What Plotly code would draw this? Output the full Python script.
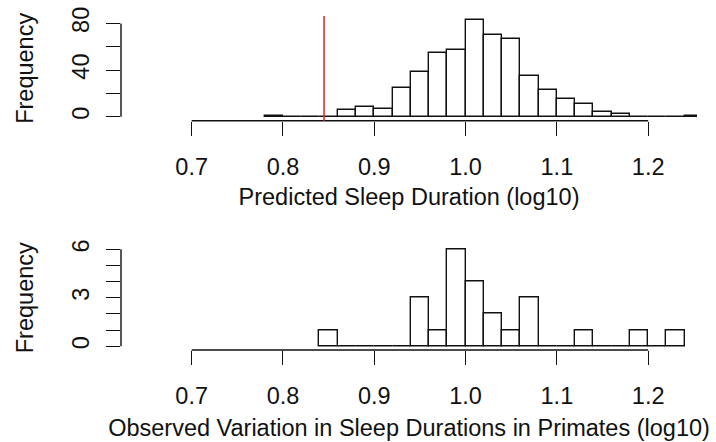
import plotly.graph_objects as go

# ---------------- data ----------------
bin_width = 0.02

pred_bin_starts = [0.78, 0.80, 0.82, 0.84, 0.86, 0.88, 0.90, 0.92, 0.94, 0.96, 0.98, 1.00,
                   1.02, 1.04, 1.06, 1.08, 1.10, 1.12, 1.14, 1.16, 1.18, 1.20, 1.22, 1.24]
pred_counts = [1, 0, 0, 0, 6, 8, 7, 25, 38, 55, 57, 83,
               70, 67, 35, 23, 15, 11, 4, 2, 0, 0, 0, 1]
pred_reference_value = 0.845  # red vertical line

obs_bin_starts = [0.84, 0.86, 0.88, 0.90, 0.92, 0.94, 0.96, 0.98, 1.00, 1.02, 1.04, 1.06,
                  1.08, 1.10, 1.12, 1.14, 1.16, 1.18, 1.20, 1.22]
obs_counts = [1, 0, 0, 0, 0, 3, 1, 6, 4, 2, 1, 3,
              0, 0, 1, 0, 0, 1, 0, 1]

x_ticks = [0.7, 0.8, 0.9, 1.0, 1.1, 1.2]
x_tick_labels = ["0.7", "0.8", "0.9", "1.0", "1.1", "1.2"]
pred_y_ticks = [0, 20, 40, 60, 80]
pred_y_tick_labels = ["0", "", "40", "", "80"]
obs_y_ticks = [0, 1, 2, 3, 4, 5, 6]
obs_y_tick_labels = ["0", "", "", "3", "", "", "6"]

x_title_top = "Predicted Sleep Duration (log10)"
x_title_bottom = "Observed Variation in Sleep Durations in Primates (log10)"
y_title = "Frequency"

# ---------------- style ----------------
FONT = "Liberation Sans, Arial, Helvetica, sans-serif"
FS = 23.5
LW = 1.4
INK = "#111111"

fig = go.Figure()

bar_style = dict(marker=dict(color="white", line=dict(color=INK, width=LW)),
                 offset=0, width=bin_width, showlegend=False, hoverinfo="x+y")

fig.add_trace(go.Bar(x=pred_bin_starts, y=pred_counts, xaxis="x", yaxis="y", **bar_style))
fig.add_trace(go.Bar(x=obs_bin_starts, y=obs_counts, xaxis="x2", yaxis="y2", **bar_style))

x_range = [0.6226, 1.2535]

def xaxis_cfg(title, anchor, standoff):
    return dict(range=x_range, anchor=anchor, showgrid=False, zeroline=False, showline=False,
                tickmode="array", tickvals=x_ticks, ticktext=x_tick_labels,
                ticks="outside", ticklen=14, tickwidth=LW, tickcolor=INK,
                ticklabelstandoff=11,
                tickfont=dict(family=FONT, size=FS, color=INK),
                title=dict(text=title, font=dict(family=FONT, size=FS, color=INK), standoff=standoff),
                automargin=False, fixedrange=True)

def yaxis_cfg(domain, rng, tv, tt, anchor):
    return dict(domain=domain, range=rng, anchor=anchor, showgrid=False, zeroline=False, showline=False,
                tickmode="array", tickvals=tv, ticktext=tt, tickangle=-90,
                ticks="outside", ticklen=14, tickwidth=LW, tickcolor=INK,
                ticklabelstandoff=8,
                tickfont=dict(family=FONT, size=FS, color=INK),
                title=dict(text=y_title, font=dict(family=FONT, size=FS, color=INK), standoff=27),
                automargin=False, fixedrange=True)

pred_max = max(pred_counts)
obs_max = max(obs_counts)

fig.update_layout(
    width=716, height=442,
    margin=dict(l=121, r=19, t=16, b=92),
    paper_bgcolor="white", plot_bgcolor="white",
    bargap=0,
    xaxis=xaxis_cfg(x_title_top, "y", 9),
    yaxis=yaxis_cfg([0.6865, 1.0], [-0.04 * pred_max, 1.04 * pred_max], pred_y_ticks, pred_y_tick_labels, "x"),
    xaxis2=xaxis_cfg(x_title_bottom, "y2", 11),
    yaxis2=yaxis_cfg([0.0, 0.3129], [-0.04 * obs_max, 1.04 * obs_max], obs_y_ticks, obs_y_tick_labels, "x2"),
)

shapes = []
# R-style detached axis lines spanning only the tick range
for xa, ya, yt in (("x", "y", pred_y_ticks), ("x2", "y2", obs_y_ticks)):
    shapes.append(dict(type="line", xref=xa, yref=f"{ya} domain",
                       x0=min(x_ticks), x1=max(x_ticks), y0=0, y1=0,
                       line=dict(color=INK, width=LW)))
    shapes.append(dict(type="line", xref=f"{xa} domain", yref=ya,
                       x0=0, x1=0, y0=min(yt), y1=max(yt),
                       line=dict(color=INK, width=LW)))
# red reference line across the top plot region
shapes.append(dict(type="line", xref="x", yref="y domain",
                   x0=pred_reference_value, x1=pred_reference_value, y0=0, y1=1,
                   line=dict(color="#e8302c", width=1.6), layer="above"))
fig.update_layout(shapes=shapes)

fig.write_html("out.html", config={"displayModeBar": False},
               post_script="document.body.style.margin='0';document.body.style.overflow='hidden';")
